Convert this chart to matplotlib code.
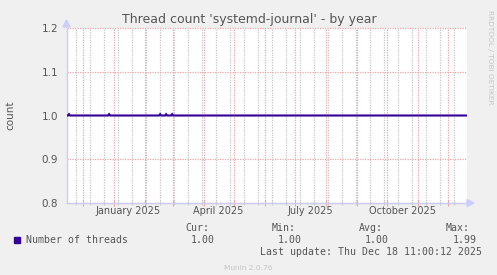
import matplotlib
matplotlib.use("Agg")
import matplotlib.pyplot as plt
import matplotlib.dates as mdates
import datetime as dt

# Series: threads of systemd-journal, yearly consolidation (sample dates / values)
sample_dates = ["2024-11-14", "2024-11-16", "2024-11-17", "2024-11-18",
                "2024-12-26", "2024-12-27", "2024-12-28",
                "2025-02-15", "2025-02-16", "2025-02-17",
                "2025-02-21", "2025-02-22", "2025-02-23",
                "2025-02-27", "2025-02-28", "2025-03-01",
                "2025-12-19"]
thread_values = [1.0, 1.0, 1.003, 1.0,
                 1.0, 1.003, 1.0,
                 1.0, 1.003, 1.0,
                 1.0, 1.003, 1.0,
                 1.0, 1.003, 1.0,
                 1.0]

title = "Thread count 'systemd-journal' - by year"
y_label = "count"
y_ticks = [0.8, 0.9, 1.0, 1.1, 1.2]
month_labels = ["January 2025", "April 2025", "July 2025", "October 2025"]
month_label_dates = ["2025-01-15", "2025-04-15", "2025-07-16", "2025-10-16"]
series_name = "Number of threads"
stat_names = ["Cur:", "Min:", "Avg:", "Max:"]
stat_values = ["1.00", "1.00", "1.00", "1.99"]
last_update = "Last update: Thu Dec 18 11:00:12 2025"

BG = "#f0f0f0"
LINE = "#330099"
AXIS = "#ccccff"
MAJOR = "#eaa8a8"
MINOR = "#c8c8c8"
TXT = "#555555"

W, H = 497, 275
fig = plt.figure(figsize=(W / 100, H / 100), dpi=100, facecolor=BG)
ax = fig.add_axes([66.5 / W, (H - 203) / H, 400.5 / W, 175 / H])
ax.set_facecolor("white")

x0 = mdates.date2num(dt.datetime(2024, 11, 14, 12))
x1 = mdates.date2num(dt.datetime(2025, 12, 19, 12))
ax.set_xlim(x0, x1)
ax.set_ylim(0.8, 1.2)

# grid: minor every two weeks, major at month starts
minor = mdates.drange(dt.datetime(2024, 11, 24), dt.datetime(2025, 12, 20), dt.timedelta(days=14))
majors = [mdates.date2num(dt.datetime(y, m, 1)) for y, m in
          [(2024, 12)] + [(2025, k) for k in range(1, 13)]]
for xv in minor:
    ax.axvline(xv, color=MINOR, lw=0.9, ls=(0, (1, 1)), zorder=1)
for xv in majors:
    ax.axvline(xv, color=MAJOR, lw=0.9, ls=(0, (1, 1)), zorder=1.1)
for yv in y_ticks:
    ax.axhline(yv, color=MAJOR, lw=0.9, ls=(0, (1, 1)), zorder=1.1, clip_on=False)

xs = [mdates.date2num(dt.datetime.fromisoformat(d)) for d in sample_dates]
ax.plot(xs, thread_values, color=LINE, lw=1.5, zorder=3, solid_joinstyle="miter")

for s in ["top", "right"]:
    ax.spines[s].set_visible(False)
for s in ["left", "bottom"]:
    ax.spines[s].set_color(AXIS)
    ax.spines[s].set_linewidth(1)

ax.set_yticks(y_ticks)
ax.set_yticklabels([f"{v:.1f}" for v in y_ticks])
ax.tick_params(axis="y", length=0, pad=6, labelsize=7.5, labelcolor=TXT)
ax.set_xticks(majors)
ax.set_xticklabels([])
ax.tick_params(axis="x", which="major", direction="inout", length=5, color=MAJOR, width=0.75)
ax.set_xticks(list(minor), minor=True)
ax.tick_params(axis="x", which="minor", direction="inout", length=3, color=MINOR, width=0.75)

for lab, d in zip(month_labels, month_label_dates):
    ax.text(mdates.date2num(dt.datetime.fromisoformat(d)), -0.045, lab,
            transform=ax.get_xaxis_transform(), ha="center", va="center",
            fontsize=7, color=TXT)

# arrows at the axis ends
fig.patches.append(matplotlib.patches.Polygon(
    [[63 / W, 1 - 27 / H], [70 / W, 1 - 27 / H], [66.5 / W, 1 - 20 / H]],
    closed=True, transform=fig.transFigure, color=AXIS))
fig.patches.append(matplotlib.patches.Polygon(
    [[467 / W, 1 - 199.5 / H], [467 / W, 1 - 206.5 / H], [474 / W, 1 - 203 / H]],
    closed=True, transform=fig.transFigure, color=AXIS))

fig.text(249 / W, 1 - 19 / H, title, ha="center", va="center", fontsize=9, color=TXT)
fig.text(10 / W, 1 - 115 / H, y_label, rotation=90, ha="center", va="center",
         fontsize=7.5, color=TXT)
fig.text(490 / W, 1 - 57 / H, "RRDTOOL / TOBI OETIKER", rotation=270,
         ha="center", va="center", fontsize=5.3, color="#c4c4c4")

mono = "DejaVu Sans Mono"
fig.patches.append(matplotlib.patches.Rectangle(
    (14 / W, 1 - 243 / H), 6 / W, 6 / H, transform=fig.transFigure, color=LINE))
fig.text(26 / W, 1 - 240 / H, series_name, ha="left", va="center",
         fontsize=7.1, family=mono, color=TXT)
stat_right = [209, 296, 383, 470]
val_right = [215, 302, 389, 477]
for nm, v, xr, vr in zip(stat_names, stat_values, stat_right, val_right):
    fig.text(xr / W, 1 - 228 / H, nm, ha="right", va="center",
             fontsize=7.1, family=mono, color=TXT)
    fig.text(vr / W, 1 - 240 / H, v, ha="right", va="center",
             fontsize=7.1, family=mono, color=TXT)
fig.text(482 / W, 1 - 252 / H, last_update, ha="right", va="center",
         fontsize=7.1, family=mono, color=TXT)
fig.text(248 / W, 1 - 268 / H, "Munin 2.0.76", ha="center", va="center",
         fontsize=5.3, color="#c4c4c4")

fig.savefig("out.png", dpi=100, facecolor=BG)
